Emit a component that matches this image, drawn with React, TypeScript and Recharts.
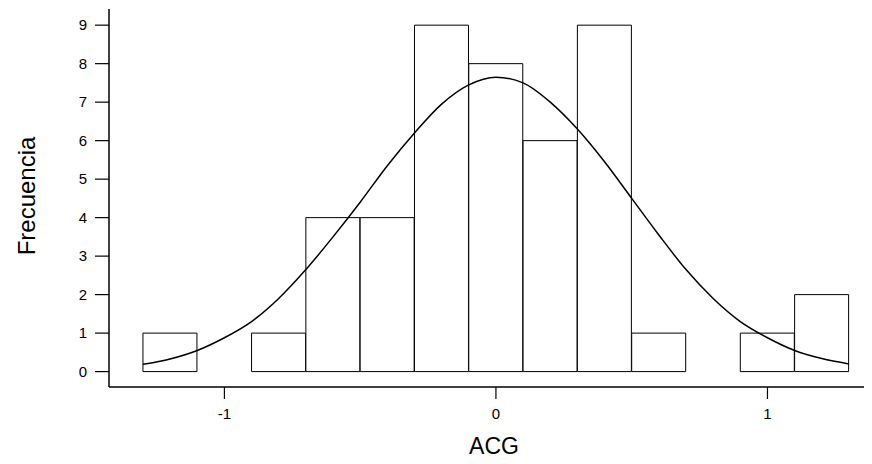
import React from 'react';
import { ComposedChart, Bar, Line, XAxis, YAxis, Label } from 'recharts';

// Histogram bins (width 0.2) – centers and counts
const binCenters = [-1.2, -1.0, -0.8, -0.6, -0.4, -0.2, 0.0, 0.2, 0.4, 0.6, 0.8, 1.0, 1.2];
const binCounts = [1, 0, 1, 4, 4, 9, 8, 6, 9, 1, 0, 1, 2];

// Fitted curve
const curveX = [-1.3, -1.2, -1.1, -1.0, -0.9, -0.8, -0.7, -0.6, -0.5, -0.4, -0.3, -0.2, -0.1, 0.0, 0.1, 0.2, 0.3, 0.4, 0.5, 0.6, 0.7, 0.8, 0.9, 1.0, 1.1, 1.2, 1.3];
const curveY = [0.19, 0.33, 0.55, 0.88, 1.3, 1.9, 2.65, 3.5, 4.4, 5.35, 6.2, 6.95, 7.45, 7.65, 7.5, 7.0, 6.3, 5.45, 4.5, 3.55, 2.65, 1.9, 1.3, 0.88, 0.55, 0.34, 0.2];

const xTicks = [-1, 0, 1];
const yTicks = [0, 1, 2, 3, 4, 5, 6, 7, 8, 9];

const xTitle = 'ACG';
const yTitle = 'Frecuencia';

const histData = binCenters.map((x, i) => ({ x, count: binCounts[i] }));
const curveData = curveX.map((x, i) => ({ x, y: curveY[i] }));

const FONT = '"Liberation Sans", Arial, Helvetica, sans-serif';
const X_DOMAIN: [number, number] = [-1.425, 1.385];
const Y_DOMAIN: [number, number] = [-0.4, 9.42];

const YTitle = (props: any) => {
  const vb = props.viewBox || { x: 0, y: 0, width: 0, height: 0 };
  const cx = vb.x + 18;
  const cy = vb.y + vb.height / 2 - 2;
  return (
    <text
      x={cx}
      y={cy}
      transform={`rotate(-90 ${cx} ${cy})`}
      textAnchor="middle"
      dominantBaseline="central"
      fontFamily={FONT}
      fontSize={24}
      fill="#000"
    >
      {yTitle}
    </text>
  );
};

const XTitle = (props: any) => {
  const vb = props.viewBox || { x: 0, y: 0, width: 0, height: 0 };
  return (
    <text
      x={vb.x + vb.width / 2 + 3.5}
      y={vb.y + 67}
      textAnchor="middle"
      fontFamily={FONT}
      fontSize={23}
      fill="#000"
    >
      {xTitle}
    </text>
  );
};

export default function App() {
  return (
    <div style={{ width: 864, height: 456, background: '#fff' }}>
      <ComposedChart
        width={864}
        height={456}
        data={histData}
        margin={{ top: 1, right: 0, bottom: 0, left: 0 }}
        barCategoryGap={0}
        barGap={0}
      >
        <XAxis
          dataKey="x"
          type="number"
          domain={X_DOMAIN}
          allowDataOverflow
          ticks={xTicks}
          interval={0}
          height={77}
          tickSize={12}
          tickMargin={9}
          tickFormatter={(v: number) => String(v)}
          axisLine={{ stroke: '#000', strokeWidth: 1.5 }}
          tickLine={{ stroke: '#000', strokeWidth: 1.2 }}
          tick={{ fill: '#000', fontSize: 15, fontFamily: FONT }}
        >
          <Label content={XTitle} />
        </XAxis>
        <XAxis
          xAxisId="top"
          dataKey="x"
          type="number"
          orientation="top"
          domain={X_DOMAIN}
          allowDataOverflow
          height={0}
          tick={false}
          tickLine={false}
          axisLine={{ stroke: '#000', strokeWidth: 1.5 }}
        />
        <YAxis
          type="number"
          domain={Y_DOMAIN}
          allowDataOverflow
          ticks={yTicks}
          interval={0}
          width={101}
          tickSize={14}
          tickMargin={8}
          axisLine={{ stroke: '#000', strokeWidth: 1.5 }}
          tickLine={{ stroke: '#000', strokeWidth: 1.2 }}
          tick={{ fill: '#000', fontSize: 15, fontFamily: FONT }}
        >
          <Label content={YTitle} />
        </YAxis>
        <Bar
          dataKey="count"
          fill="#fff"
          stroke="#000"
          strokeWidth={1}
          isAnimationActive={false}
        />
        <Line
          xAxisId="top"
          data={curveData}
          dataKey="y"
          type="monotone"
          dot={false}
          stroke="#000"
          strokeWidth={1.5}
          isAnimationActive={false}
        />
      </ComposedChart>
    </div>
  );
}
